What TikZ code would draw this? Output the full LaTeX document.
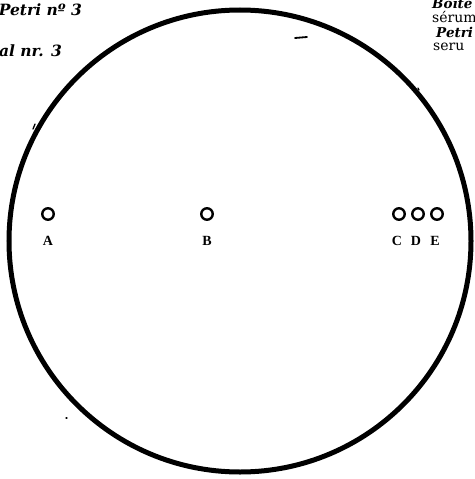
\documentclass[tikz,border=0pt]{standalone}
\usepackage{fontspec}
\setmainfont{DejaVu Serif}
\newfontfamily\lblfont{Liberation Serif}
\begin{document}
\begin{tikzpicture}[x=1pt,y=-1pt,
  dish/.style={circle,draw,line width=5pt,minimum size=462pt,inner sep=0pt},
  well/.style={circle,draw,line width=2.4pt,minimum size=11.5pt,inner sep=0pt},
  lbl/.style={font=\lblfont\bfseries\fontsize{14}{14}\selectfont,inner sep=0pt},
  noteit/.style={font=\bfseries\itshape\fontsize{15.5}{15.5}\selectfont,inner sep=0pt},
  noteitr/.style={font=\bfseries\itshape\fontsize{13.5}{13.5}\selectfont,inner sep=0pt},
  noterm/.style={font=\fontsize{14}{14}\selectfont,inner sep=0pt},
  speck/.style={line width=1.3pt,line cap=round}]
\useasboundingbox (0,0) rectangle (474,479);
\node[dish] (dish) at (240,241) {};
% wells
\node[well] (wA) at (48,214) {};
\node[well] (wB) at (207,214) {};
\node[well] (wC) at (399,214) {};
\node[well] (wD) at (418,214) {};
\node[well] (wE) at (437,214) {};
% labels
\node[lbl] (lA) at (48,241) {A};
\node[lbl] (lB) at (207,241) {B};
\node[lbl] (lC) at (397,241) {C};
\node[lbl] (lD) at (416,241) {D};
\node[lbl] (lE) at (435,241) {E};
% texts
\node[noteit,anchor=base east] (t1) at (82,15) {Petri nº 3};
\node[noteit,anchor=base east] (t2) at (62,56) {al nr. 3};
\node[noteitr,anchor=base west] (t3) at (432,9) {Boîte};
\node[noterm,anchor=base west] (t4) at (432,23) {sérum};
\node[noteitr,anchor=base west] (t5) at (436,37) {Petri};
\node[noterm,anchor=base west] (t6) at (433,50) {seru};
% specks
\coordinate (s1) at (295,38); \coordinate (s1e) at (307,37);
\draw[speck,line width=1.8pt] (s1) -- (s1e);
\coordinate (s2) at (35,124); \coordinate (s2e) at (33,129);
\draw[speck] (s2) -- (s2e);
\coordinate (s3) at (418,88); \coordinate (s3e) at (419,90);
\draw[speck] (s3) -- (s3e);
\coordinate (s4) at (422,99); \coordinate (s4e) at (424,102);
\draw[speck] (s4) -- (s4e);
\coordinate (s5) at (66,418); \coordinate (s5e) at (67,418);
\draw[speck] (s5) -- (s5e);
\end{tikzpicture}
\end{document}
